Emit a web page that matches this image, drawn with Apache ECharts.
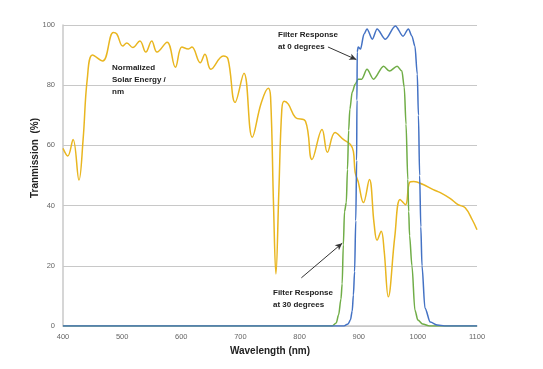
<!DOCTYPE html>
<html>
<head>
<meta charset="utf-8">
<script src="https://cdn.jsdelivr.net/npm/echarts@6/dist/echarts.min.js"></script>
<style>html,body{margin:0;padding:0;background:#fff}#c{width:543px;height:369px}</style>
</head>
<body>
<div id="c"></div>
<script>
// X axis ticks
var xTicks = [400, 500, 600, 700, 800, 900, 1000, 1100];
var yTicks = [0, 20, 40, 60, 80, 100];

// Normalized solar energy
var solarNm  = [400,408,417,427,434,441,450,467,485,491,501,508,518,530,540,550,559,576,590,601,612,618,632,640,650,671,679,691,706,720,735,747,751,756,760,765,770,774,781,793,810,821,838,847,860,874,886,891,894,899,908,918,926,931,938,943,950,961,970,979,986,993,1009,1026,1038,1055,1068,1080,1092,1100];
var solarVal = [59,56.5,62,48.5,62,82,90,88,97.5,97,93,94,92.5,94.7,91,94.7,91,94.3,86,92.7,92,92.7,87.5,90.3,85.3,89.7,88.7,74.3,84,62.7,74,79,76,40,17.3,45,72,74.7,73.7,69.3,68,55.3,65.3,57.7,64.3,62,60.3,58,51,48,41,48.7,34,28.5,31.5,25,9.7,29.7,42,40.3,47.7,48,47,45.3,44.3,42.3,40.3,39.3,35.3,32];

// Filter response at 0 degrees
var f0Nm  = [400,875,882,886,889,891,893,895,896.5,897,897.5,899,903,909,914,923,931,945,962,975,984,990,995,999,1001,1003,1005,1007,1012,1021,1033,1045,1100];
var f0Val = [0,0,0.7,2,5,10.3,18,35,55,75,91,92.7,92,97,98.7,95.3,98.7,95.3,99.7,96.3,98.7,96.3,93,83.7,70,50,33,20,6,1.3,0.3,0,0];

// Filter response at 30 degrees
var f30Nm  = [400,855,862,866,870,872,874,876,879,881,883,885,889,894,899,905,914,925,942,952,965,973,977,980,983,984.5,986,990,995,1000,1008,1020,1100];
var f30Val = [0,0,1,3.7,9,14,27,38,41,52,65,72,77.7,80.3,82,82,85.3,82,86.3,84.7,86.3,84.7,79.3,67,48.7,38,30,20,5.3,2,0.7,0,0];

function zip(a, b) { return a.map(function (v, i) { return [v, b[i]]; }); }

var chart = echarts.init(document.getElementById('c'), null, {renderer: 'canvas'});
var labelFont = 'Liberation Sans';
var noteStyle = {fontFamily: labelFont, fontWeight: 'bold', fontSize: 8, fill: '#222', lineHeight: 12};

chart.setOption({
  animation: false,
  backgroundColor: '#fff',
  grid: {left: 63, right: 66, top: 25, bottom: 43},
  xAxis: {
    type: 'value', min: 400, max: 1100, interval: 100,
    name: 'Wavelength (nm)', nameLocation: 'middle', nameGap: 19,
    nameTextStyle: {fontFamily: labelFont, fontWeight: 'bold', fontSize: 10, color: '#222'},
    axisLine: {show: true, lineStyle: {color: '#c8c8c8', width: 1.5}},
    axisTick: {show: false},
    splitLine: {show: false},
    axisLabel: {fontFamily: labelFont, fontSize: 7.5, color: '#666', margin: 7,
      formatter: function (v) { return xTicks.indexOf(v) >= 0 ? String(v) : ''; }}
  },
  yAxis: {
    type: 'value', min: 0, max: 100, interval: 20,
    axisLine: {show: true, lineStyle: {color: '#c8c8c8', width: 1.5}},
    axisTick: {show: false},
    splitLine: {show: true, lineStyle: {color: '#c8c8c8', width: 1}},
    axisLabel: {fontFamily: labelFont, fontSize: 7.5, color: '#666', margin: 8,
      formatter: function (v) { return yTicks.indexOf(v) >= 0 ? String(v) : ''; }}
  },
  series: [
    {
      name: 'Solar', type: 'line', data: zip(solarNm, solarVal),
      smooth: 0.4, showSymbol: false,
      lineStyle: {color: '#E9B620', width: 1.5}, z: 2
    },
    {
      name: 'Filter 30', type: 'line', data: zip(f30Nm, f30Val),
      smooth: 0.3, smoothMonotone: 'x', showSymbol: false,
      lineStyle: {color: '#70AD47', width: 1.5}, z: 3,
      markLine: {
        silent: true, symbol: ['none', 'arrow'], symbolSize: [5, 7],
        label: {show: false},
        lineStyle: {color: '#333', width: 1, type: 'solid'},
        data: [[{coord: [803, 16]}, {coord: [872, 27.5]}]]
      }
    },
    {
      name: 'Filter 0', type: 'line', data: zip(f0Nm, f0Val),
      smooth: 0.3, smoothMonotone: 'x', showSymbol: false,
      lineStyle: {color: '#4472C4', width: 1.5}, z: 4,
      markLine: {
        silent: true, symbol: ['none', 'arrow'], symbolSize: [5, 7],
        label: {show: false},
        lineStyle: {color: '#333', width: 1, type: 'solid'},
        data: [[{coord: [848, 92.7]}, {coord: [896, 88.5]}]]
      }
    }
  ],
  graphic: [
    {type: 'text', left: 112, top: 62, style: Object.assign({text: 'Normalized\nSolar Energy /\nnm'}, noteStyle)},
    {type: 'text', left: 278, top: 29, style: Object.assign({text: 'Filter Response\nat 0 degrees'}, noteStyle)},
    {type: 'text', left: 273, top: 287, style: Object.assign({text: 'Filter Response\nat 30 degrees'}, noteStyle)},
    {type: 'text', x: 35, y: 158, rotation: Math.PI / 2,
      style: {text: 'Tranmission  (%)', fontFamily: labelFont, fontWeight: 'bold', fontSize: 10, fill: '#222', align: 'center', verticalAlign: 'middle'}}
  ]
});
</script>
</body>
</html>
